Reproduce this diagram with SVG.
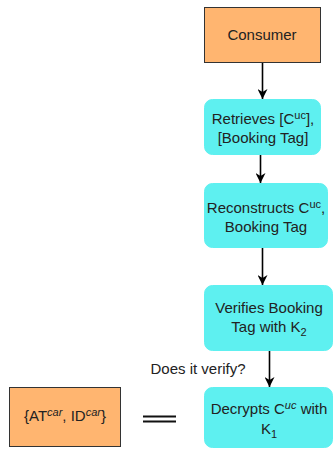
<svg xmlns="http://www.w3.org/2000/svg" width="335" height="449" viewBox="0 0 335 449">
  <defs>
    <marker id="arrow" viewBox="0 0 10 10" refX="10" refY="5" markerWidth="10" markerHeight="10" markerUnits="userSpaceOnUse" orient="auto">
      <path d="M0,0 L10,5 L0,10 L3,5 Z" fill="#000"/>
    </marker>
    <style>
      .orange { fill: #FFB570; stroke: #333; stroke-width: 1; }
      .cyan { fill: #5EF0F0; stroke: #5EF0F0; stroke-width: 1; }
      text { font-family: "Liberation Sans", Arial, sans-serif; font-size: 15px; fill: #222; text-anchor: middle; }
      .edge { stroke: #000; stroke-width: 1.6; fill: none; marker-end: url(#arrow); }
      .sub { font-size: 11px; }
    </style>
  </defs>
  <rect width="335" height="449" fill="#fff"/>

  <g id="consumer">
    <rect class="orange" x="204.5" y="7.5" width="116" height="55"/>
    <text x="262" y="40">Consumer</text>
  </g>

  <g id="retrieves">
    <rect class="cyan" x="204.5" y="99.5" width="116" height="55" rx="8"/>
    <text x="263" y="124">Retrieves [C<tspan class="sub" dy="-5">uc</tspan><tspan dy="5">],</tspan></text>
    <text x="263" y="143">[Booking Tag]</text>
  </g>

  <g id="reconstructs">
    <rect class="cyan" x="204.5" y="183.5" width="123" height="64" rx="8"/>
    <text x="266" y="213">Reconstructs C<tspan class="sub" dy="-5">uc</tspan><tspan dy="5">,</tspan></text>
    <text x="266" y="232">Booking Tag</text>
  </g>

  <g id="verifies">
    <rect class="cyan" x="204.5" y="285.5" width="128" height="65" rx="8"/>
    <text x="269" y="313">Verifies Booking</text>
    <text x="269" y="332">Tag with K<tspan class="sub" dy="4">2</tspan></text>
  </g>

  <g id="decrypts">
    <rect class="cyan" x="204.5" y="387.5" width="128" height="60" rx="8"/>
    <text x="269" y="414">Decrypts C<tspan class="sub" dy="-5" font-style="italic">uc</tspan><tspan dy="5"> with</tspan></text>
    <text x="269" y="434">K<tspan class="sub" dy="4">1</tspan></text>
  </g>

  <g id="at-id">
    <rect class="orange" x="9.5" y="387.5" width="111" height="59"/>
    <text x="65" y="421" font-size="14">{AT<tspan class="sub" dy="-5" font-style="italic">car</tspan><tspan dy="5">, ID</tspan><tspan class="sub" dy="-5" font-style="italic">car</tspan><tspan dy="5">}</tspan></text>
  </g>

  <g id="equals">
    <line x1="143" y1="416.5" x2="176" y2="416.5" stroke="#111" stroke-width="2"/>
    <line x1="143" y1="421.5" x2="176" y2="421.5" stroke="#111" stroke-width="2"/>
  </g>

  <g id="connectors">
    <line class="edge" x1="262.5" y1="63" x2="262.5" y2="99"/>
    <line class="edge" x1="260.5" y1="155" x2="260.5" y2="183"/>
    <line class="edge" x1="262.5" y1="248" x2="262.5" y2="285"/>
    <line class="edge" x1="269.5" y1="351" x2="269.5" y2="387"/>
    <text x="198" y="374" font-size="14">Does it verify?</text>
  </g>
</svg>
